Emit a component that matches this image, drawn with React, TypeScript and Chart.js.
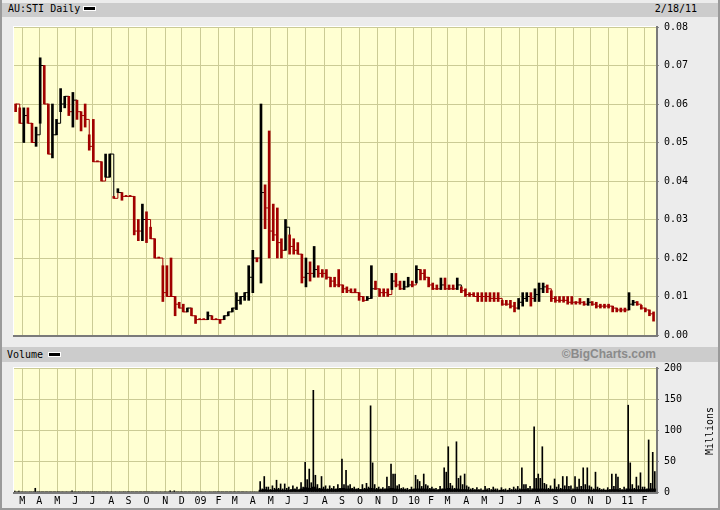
import React, { useEffect, useRef } from "react";
import { Chart, registerables } from "chart.js";
Chart.register(...registerables);

// ---------- text ----------
const TITLE = "AU:STI Daily";
const DATE_LABEL = "2/18/11";
const VOLUME_TITLE = "Volume";
const CREDIT = "\u00A9BigCharts.com";
const VOLUME_UNIT = "Millions";

// ---------- calendar ----------
const FIRST_DAY = "2008-02-18"; // Monday of first weekly bar
const LAST_DAY = "2011-02-21"; // axis end
const monthStarts = [
  "2008-03-01", "2008-04-01", "2008-05-01", "2008-06-01", "2008-07-01", "2008-08-01",
  "2008-09-01", "2008-10-01", "2008-11-01", "2008-12-01", "2009-01-01", "2009-02-01",
  "2009-03-01", "2009-04-01", "2009-05-01", "2009-06-01", "2009-07-01", "2009-08-01",
  "2009-09-01", "2009-10-01", "2009-11-01", "2009-12-01", "2010-01-01", "2010-02-01",
  "2010-03-01", "2010-04-01", "2010-05-01", "2010-06-01", "2010-07-01", "2010-08-01",
  "2010-09-01", "2010-10-01", "2010-11-01", "2010-12-01", "2011-01-01", "2011-02-01",
];
const monthLabels = [
  "M", "A", "M", "J", "J", "A", "S", "O", "N", "D", "09", "F",
  "M", "A", "M", "J", "J", "A", "S", "O", "N", "D", "10", "F",
  "M", "A", "M", "J", "J", "A", "S", "O", "N", "D", "11", "F",
];
const priceTickValues = [0, 0.01, 0.02, 0.03, 0.04, 0.05, 0.06, 0.07, 0.08];
const priceTickLabels = ["0.00", "0.01", "0.02", "0.03", "0.04", "0.05", "0.06", "0.07", "0.08"];
const volumeTickValues = [0, 50, 100, 150, 200];
const volumeTickLabels = ["0", "50", "100", "150", "200"];

// ---------- weekly price data (week i starts FIRST_DAY + 7*i days) ----------
const weekHigh = [
  0.060, 0.059, 0.059, 0.059, 0.055, 0.054, 0.072, 0.070, 0.060, 0.060,
  0.056, 0.064, 0.062, 0.062, 0.063, 0.061, 0.058, 0.060, 0.052, 0.056,
  0.045, 0.045, 0.047, 0.047, 0.036, 0.038, 0.037, 0.036, 0.036, 0.036,
  0.030, 0.034, 0.032, 0.028, 0.025, 0.020, 0.018, 0.018, 0.020, 0.010,
  0.0085, 0.008, 0.007, 0.007, 0.005, 0.004, 0.004, 0.006, 0.005, 0.004,
  0.004, 0.005, 0.006, 0.007, 0.011, 0.010, 0.011, 0.018, 0.022, 0.020,
  0.060, 0.039, 0.053, 0.034, 0.033, 0.025, 0.030, 0.026, 0.025, 0.024,
  0.021, 0.020, 0.019, 0.023, 0.018, 0.017, 0.017, 0.015, 0.015, 0.017,
  0.013, 0.0125, 0.012, 0.012, 0.011, 0.010, 0.010, 0.018, 0.014, 0.012,
  0.012, 0.012, 0.016, 0.016, 0.014, 0.014, 0.015, 0.014, 0.018, 0.017,
  0.017, 0.015, 0.0135, 0.013, 0.0148, 0.0148, 0.013, 0.013, 0.0148, 0.0125,
  0.012, 0.011, 0.011, 0.011, 0.011, 0.011, 0.011, 0.011, 0.011, 0.009,
  0.009, 0.009, 0.0085, 0.0095, 0.011, 0.011, 0.011, 0.012, 0.0135, 0.0135,
  0.013, 0.0115, 0.010, 0.010, 0.010, 0.010, 0.010, 0.0087, 0.0095, 0.0087,
  0.0095, 0.0087, 0.0085, 0.008, 0.008, 0.008, 0.0075, 0.007, 0.007, 0.007,
  0.011, 0.009, 0.0087, 0.0077, 0.007, 0.0065, 0.006,
];
const weekLow = [
  0.058, 0.055, 0.050, 0.055, 0.050, 0.049, 0.055, 0.060, 0.047, 0.046,
  0.052, 0.058, 0.059, 0.057, 0.054, 0.056, 0.053, 0.054, 0.048, 0.045,
  0.045, 0.040, 0.041, 0.041, 0.0355, 0.037, 0.035, 0.036, 0.036, 0.026,
  0.0245, 0.0245, 0.024, 0.025, 0.020, 0.020, 0.0087, 0.010, 0.010, 0.005,
  0.007, 0.006, 0.006, 0.005, 0.003, 0.004, 0.004, 0.004, 0.004, 0.004,
  0.003, 0.004, 0.005, 0.006, 0.0066, 0.008, 0.009, 0.009, 0.011, 0.019,
  0.0135, 0.0276, 0.020, 0.0245, 0.020, 0.020, 0.022, 0.021, 0.021, 0.021,
  0.0135, 0.0125, 0.014, 0.015, 0.015, 0.015, 0.0145, 0.0125, 0.0125, 0.0125,
  0.011, 0.011, 0.011, 0.011, 0.009, 0.0087, 0.009, 0.0095, 0.0118, 0.010,
  0.010, 0.010, 0.0118, 0.0125, 0.0118, 0.0118, 0.0125, 0.0125, 0.0135, 0.0143,
  0.0143, 0.0125, 0.0118, 0.0118, 0.0118, 0.0118, 0.0118, 0.0118, 0.0118, 0.011,
  0.010, 0.010, 0.010, 0.0087, 0.0087, 0.0087, 0.0087, 0.0087, 0.0087, 0.0077,
  0.0077, 0.007, 0.006, 0.0067, 0.0075, 0.0087, 0.0075, 0.0087, 0.0087, 0.011,
  0.011, 0.0087, 0.0085, 0.0085, 0.0085, 0.008, 0.008, 0.008, 0.008, 0.0077,
  0.0077, 0.0077, 0.007, 0.007, 0.007, 0.007, 0.006, 0.006, 0.006, 0.006,
  0.0065, 0.0077, 0.0077, 0.0067, 0.006, 0.005, 0.0036,
];
const weekClose = [
  0.060, 0.055, 0.057, 0.055, 0.050, 0.052, 0.070, 0.060, 0.047, 0.052,
  0.055, 0.060, 0.062, 0.058, 0.061, 0.058, 0.057, 0.056, 0.049, 0.045,
  0.045, 0.040, 0.041, 0.047, 0.0355, 0.037, 0.036, 0.036, 0.036, 0.027,
  0.027, 0.030, 0.030, 0.025, 0.020, 0.020, 0.011, 0.010, 0.010, 0.008,
  0.007, 0.006, 0.007, 0.005, 0.004, 0.004, 0.004, 0.005, 0.004, 0.004,
  0.004, 0.005, 0.006, 0.007, 0.009, 0.010, 0.011, 0.015, 0.020, 0.020,
  0.037, 0.033, 0.027, 0.026, 0.024, 0.022, 0.028, 0.023, 0.022, 0.021,
  0.015, 0.016, 0.016, 0.017, 0.016, 0.016, 0.015, 0.014, 0.013, 0.013,
  0.012, 0.0115, 0.011, 0.011, 0.010, 0.009, 0.0095, 0.012, 0.012, 0.011,
  0.011, 0.0105, 0.014, 0.013, 0.012, 0.0125, 0.013, 0.013, 0.017, 0.016,
  0.015, 0.013, 0.012, 0.012, 0.013, 0.012, 0.012, 0.012, 0.013, 0.0115,
  0.0105, 0.0105, 0.010, 0.010, 0.010, 0.010, 0.0095, 0.0095, 0.0095, 0.008,
  0.008, 0.0075, 0.007, 0.0085, 0.0095, 0.010, 0.0095, 0.0105, 0.012, 0.0125,
  0.012, 0.0095, 0.009, 0.009, 0.009, 0.0085, 0.0085, 0.0085, 0.0085, 0.008,
  0.0085, 0.008, 0.0075, 0.0075, 0.0075, 0.0075, 0.007, 0.0065, 0.0065, 0.0065,
  0.008, 0.0085, 0.008, 0.007, 0.0065, 0.0055, 0.004,
];

// ---------- weekly volume data (millions) ----------
const volPeak = [
  1.5, 1.5, 0, 0, 0, 6, 0, 0, 0, 0,
  0, 0, 0, 0, 2, 0, 0, 0, 0, 0,
  0, 0, 0, 0, 0, 0, 0, 0, 0, 0,
  0, 0, 0, 0, 0, 0, 0, 0, 2, 2,
  0, 0, 0, 0, 0, 0, 0, 0, 0, 0,
  0, 0, 0, 0, 0, 0, 0, 0, 0, 0,
  17, 25, 8, 10, 19, 13, 13, 8, 10, 8,
  15, 48, 37, 164, 12, 25, 10, 10, 9, 12,
  53, 35, 12, 8, 6, 12, 14, 139, 12, 8,
  7, 24, 45, 29, 12, 7, 6, 8, 27, 17,
  29, 10, 8, 6, 9, 39, 73, 10, 81, 26,
  29, 8, 6, 7, 5, 9, 6, 8, 5, 7,
  5, 6, 8, 9, 39, 12, 9, 105, 29, 73,
  12, 10, 21, 12, 25, 25, 10, 25, 21, 39,
  39, 8, 32, 6, 5, 7, 29, 29, 6, 8,
  140, 12, 24, 31, 8, 84, 64,
];
const volSecond = [
  0, 0, 0, 0, 0, 0, 0, 0, 0, 0,
  0, 0, 0, 0, 0, 0, 0, 0, 0, 0,
  0, 0, 0, 0, 0, 0, 0, 0, 0, 0,
  0, 0, 0, 0, 0, 0, 0, 0, 0, 0,
  0, 0, 0, 0, 0, 0, 0, 0, 0, 0,
  0, 0, 0, 0, 0, 0, 0, 0, 0, 0,
  5, 8, 4, 6, 6, 5, 6, 4, 5, 4,
  8, 20, 15, 27, 6, 8, 5, 6, 5, 6,
  12, 10, 6, 5, 4, 6, 8, 47, 6, 5,
  5, 9, 29, 10, 6, 5, 4, 5, 20, 9,
  12, 6, 5, 4, 5, 32, 14, 6, 22, 12,
  10, 5, 4, 4, 3, 5, 4, 5, 3, 4,
  3, 4, 5, 5, 12, 6, 5, 22, 22, 14,
  6, 5, 8, 6, 10, 9, 5, 8, 9, 12,
  10, 5, 8, 4, 3, 4, 9, 24, 4, 5,
  47, 6, 10, 8, 5, 14, 33,
];
const volFloor = [
  0, 0, 0, 0, 0, 0, 0, 0, 0, 0,
  0, 0, 0, 0, 0, 0, 0, 0, 0, 0,
  0, 0, 0, 0, 0, 0, 0, 0, 0, 0,
  0, 0, 0, 0, 0, 0, 0, 0, 0, 0,
  0, 0, 0, 0, 0, 0, 0, 0, 0, 0,
  0, 0, 0, 0, 0, 0, 0, 0, 0, 0,
  3, 4, 3, 3, 4, 3, 3, 3, 4, 3,
  5, 7, 6, 8, 5, 5, 4, 4, 4, 5,
  6, 5, 5, 4, 4, 4, 5, 6, 4, 4,
  4, 5, 6, 5, 4, 4, 3, 4, 5, 5,
  5, 4, 4, 3, 4, 5, 6, 4, 5, 4,
  4, 3, 3, 3, 2, 3, 2, 3, 2, 3,
  2, 3, 3, 3, 4, 4, 3, 5, 5, 5,
  4, 4, 4, 4, 4, 4, 3, 4, 4, 4,
  4, 3, 4, 3, 3, 3, 4, 4, 3, 3,
  5, 4, 4, 4, 4, 5, 5,
];

// ---------- styles ----------
const RED = "#a00000";
const GRID = "#cbcb95";
const PLOT_BG = "#ffffd2";
const MONO = "'DejaVu Sans Mono', monospace";

function tradingIndex(iso: string): number {
  const [y, m, d] = iso.split("-").map(Number);
  const [y0, m0, d0] = FIRST_DAY.split("-").map(Number);
  const days = Math.round((Date.UTC(y, m - 1, d) - Date.UTC(y0, m0 - 1, d0)) / 86400000);
  return Math.floor(days / 7) * 5 + Math.min(days % 7, 5);
}
const monthIdx = monthStarts.map(tradingIndex);
const AXIS_MAX = tradingIndex(LAST_DAY);
// each week holds 5 trading days
const weekX = (i: number, dayOffset: number) => i * 5 + dayOffset;

const isUp = weekClose.map((c, i) => i > 0 && c > weekClose[i - 1]);
const colorOf = (i: number) => (isUp[i] ? "#000000" : RED);

const framePlugin = {
  id: "frame",
  beforeDraw(chart: any) {
    const { ctx, chartArea: a } = chart;
    ctx.save();
    ctx.fillStyle = PLOT_BG;
    ctx.fillRect(a.left, a.top, a.right - a.left, a.bottom - a.top);
    ctx.restore();
  },
  afterDraw(chart: any) {
    const { ctx, chartArea: a } = chart;
    ctx.save();
    ctx.fillStyle = "#ffffff";
    ctx.fillRect(a.left, a.top - 1, a.right - a.left, 1);
    ctx.fillRect(a.left - 1, a.top - 1, 1, a.bottom - a.top + 1);
    ctx.fillStyle = "#7a7a7a";
    ctx.fillRect(a.left - 1, a.bottom, a.right - a.left + 3, 2);
    ctx.fillRect(a.right, a.top - 1, 2, a.bottom - a.top + 1);
    ctx.restore();
  },
};

function xScale(showLabels: boolean): any {
  return {
    type: "linear",
    min: 0,
    max: AXIS_MAX,
    offset: false,
    afterBuildTicks: (s: any) => {
      s.ticks = monthIdx.map((v) => ({ value: v }));
    },
    afterFit: (s: any) => {
      s.height = showLabels ? 18 : 0;
    },
    ticks: {
      display: showLabels,
      autoSkip: false,
      maxRotation: 0,
      padding: 3,
      color: "#000",
      font: { family: MONO, size: 10 },
      callback: (_v: any, i: number) => monthLabels[i],
    },
    grid: { color: GRID, drawTicks: false, lineWidth: 1, offset: false },
    border: { display: false },
  };
}

function yScale(min: number, max: number, values: number[], labels: string[]): any {
  return {
    position: "right",
    min,
    max,
    afterBuildTicks: (s: any) => {
      s.ticks = values.map((v) => ({ value: v }));
    },
    afterFit: (s: any) => {
      s.width = 64;
    },
    ticks: {
      color: "#000",
      padding: 5,
      font: { family: MONO, size: 10 },
      callback: (_v: any, i: number) => labels[i],
    },
    grid: { color: GRID, tickColor: "#8a8a8a", tickLength: 3, lineWidth: 1 },
    border: { display: false },
  };
}

export default function App() {
  const priceRef = useRef<HTMLCanvasElement>(null);
  const volRef = useRef<HTMLCanvasElement>(null);

  useEffect(() => {
    const price = new Chart(priceRef.current!, {
      type: "bar",
      data: {
        datasets: [
          {
            type: "bar",
            data: weekHigh.map((h, i) => ({ x: weekX(i, 2), y: [weekLow[i], h] })) as any,
            backgroundColor: weekClose.map((_, i) => colorOf(i)),
            barThickness: 2,
            minBarLength: 1,
            grouped: false,
            order: 0,
          } as any,
          {
            type: "line",
            data: weekClose.map((c, i) => ({ x: weekX(i, 2), y: c })),
            stepped: "before",
            borderWidth: 1,
            borderColor: RED,
            pointRadius: 0,
            segment: { borderColor: (c: any) => colorOf(c.p0DataIndex) },
            order: 1,
          } as any,
        ],
      },
      options: {
        animation: false,
        responsive: false,
        devicePixelRatio: 1,
        layout: { padding: { left: 14, top: 6, right: 0, bottom: 10 } },
        plugins: { legend: { display: false }, tooltip: { enabled: false } },
        scales: {
          x: xScale(false),
          y: yScale(0, 0.08, priceTickValues, priceTickLabels),
        },
      },
      plugins: [framePlugin],
    });

    const volume = new Chart(volRef.current!, {
      type: "bar",
      data: {
        datasets: [
          {
            data: volFloor.map((v, i) => ({ x: weekX(i, 2), y: v })),
            backgroundColor: "#000",
            barThickness: 4,
            grouped: false,
          },
          {
            data: volSecond.map((v, i) => ({ x: weekX(i, 3.5), y: v })),
            backgroundColor: "#000",
            barThickness: 1,
            grouped: false,
          },
          {
            data: volPeak.map((v, i) => ({ x: weekX(i, 1), y: v })),
            backgroundColor: "#000",
            barThickness: 1,
            grouped: false,
          },
        ] as any,
      },
      options: {
        animation: false,
        responsive: false,
        devicePixelRatio: 1,
        layout: { padding: { left: 14, top: 12, right: 0, bottom: 0 } },
        plugins: { legend: { display: false }, tooltip: { enabled: false } },
        scales: {
          x: xScale(true),
          y: yScale(0, 200, volumeTickValues, volumeTickLabels),
        },
      },
      plugins: [framePlugin],
    });

    return () => {
      price.destroy();
      volume.destroy();
    };
  }, []);

  const bar: React.CSSProperties = { position: "absolute", left: 2, width: 716, background: "#cccccc" };
  const monoText: React.CSSProperties = {
    position: "absolute",
    fontFamily: MONO,
    fontSize: 10,
    lineHeight: "14px",
    color: "#000",
    whiteSpace: "nowrap",
  };
  const swatch: React.CSSProperties = {
    position: "absolute",
    width: 11,
    height: 3,
    background: "#000",
    border: "1px solid #fff",
  };

  return (
    <div
      style={{
        position: "fixed",
        left: 0,
        top: 0,
        width: 720,
        height: 510,
        background: "#ececec",
        overflow: "hidden",
      }}
    >
      <div style={{ ...bar, top: 3, height: 14 }} />
      <div style={{ ...monoText, left: 8, top: 1.5 }}>{TITLE}</div>
      <div style={{ ...swatch, left: 83, top: 6 }} />
      <div style={{ ...monoText, right: 23, top: 1.5 }}>{DATE_LABEL}</div>

      <canvas
        ref={priceRef}
        width={720}
        height={330}
        style={{ position: "absolute", left: 0, top: 16, width: 720, height: 330 }}
      />

      <div style={{ ...bar, top: 347, height: 15 }} />
      <div style={{ ...monoText, left: 7, top: 348 }}>{VOLUME_TITLE}</div>
      <div style={{ ...swatch, left: 48, top: 352 }} />
      <div
        style={{
          position: "absolute",
          right: 64,
          top: 347,
          fontFamily: "'Liberation Sans', Arial, sans-serif",
          fontWeight: "bold",
          fontSize: 12,
          lineHeight: "14px",
          color: "#8a8a8a",
          whiteSpace: "nowrap",
        }}
      >
        {CREDIT}
      </div>

      <canvas
        ref={volRef}
        width={720}
        height={154}
        style={{ position: "absolute", left: 0, top: 356, width: 720, height: 154 }}
      />
      <div
        style={{
          ...monoText,
          left: 710,
          top: 431,
          transform: "translate(-50%, -50%) rotate(-90deg)",
        }}
      >
        {VOLUME_UNIT}
      </div>

      <div style={{ position: "absolute", left: 0, top: 0, width: 2, height: 510, background: "#9a9a9a" }} />
      <div style={{ position: "absolute", right: 0, top: 0, width: 2, height: 510, background: "#9a9a9a" }} />
      <div style={{ position: "absolute", left: 0, bottom: 0, width: 720, height: 2, background: "#9a9a9a" }} />
    </div>
  );
}
